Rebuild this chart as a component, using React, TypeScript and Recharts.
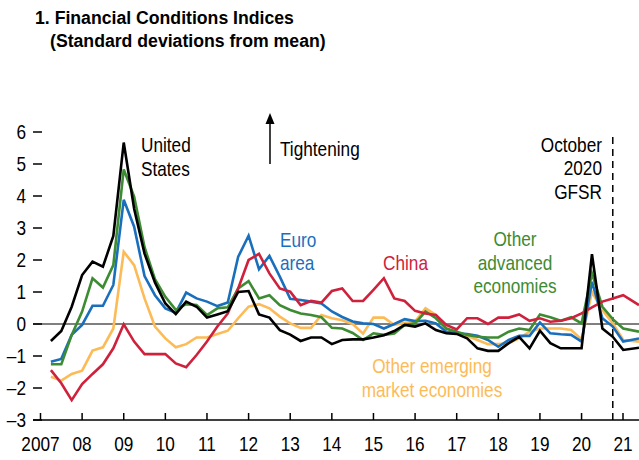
import {
  LineChart,
  Line,
  XAxis,
  YAxis,
  ReferenceLine,
} from "recharts";

// Liberation Sans squeezed horizontally to mimic a narrow face
const FONT = '"Liberation Sans", Arial, sans-serif';
const SQUEEZE = 0.82;

// quarter-end positions (decimal years); last point is the latest reading
const dates = [
  2007.25, 2007.5, 2007.75, 2008.0,
  2008.25, 2008.5, 2008.75, 2009.0,
  2009.25, 2009.5, 2009.75, 2010.0,
  2010.25, 2010.5, 2010.75, 2011.0,
  2011.25, 2011.5, 2011.75, 2012.0,
  2012.25, 2012.5, 2012.75, 2013.0,
  2013.25, 2013.5, 2013.75, 2014.0,
  2014.25, 2014.5, 2014.75, 2015.0,
  2015.25, 2015.5, 2015.75, 2016.0,
  2016.25, 2016.5, 2016.75, 2017.0,
  2017.25, 2017.5, 2017.75, 2018.0,
  2018.25, 2018.5, 2018.75, 2019.0,
  2019.25, 2019.5, 2019.75, 2020.0,
  2020.25, 2020.5, 2020.75, 2021.0,
  2021.38,
];

const unitedStates = [
  -0.53, -0.22, 0.54, 1.53, 1.95, 1.79, 2.75, 5.67,
  3.6, 2.2, 1.3, 0.64, 0.31, 0.7, 0.54, 0.2,
  0.3, 0.4, 1.0, 1.03, 0.3, 0.2, -0.19, -0.33,
  -0.53, -0.42, -0.42, -0.63, -0.5, -0.48, -0.48, -0.42,
  -0.35, -0.22, -0.03, -0.08, 0.02, -0.19, -0.29, -0.31,
  -0.45, -0.76, -0.84, -0.84, -0.6, -0.4, -0.76, -0.21,
  -0.6, -0.76, -0.76, -0.76, 2.18, -0.14, -0.4, -0.81,
  -0.74,
];

const euroArea = [
  -1.18, -1.09, -0.34, -0.03, 0.57, 0.57, 1.22, 3.88,
  3.04, 1.5, 0.9, 0.49, 0.35, 0.98, 0.8, 0.7,
  0.56, 0.67, 2.1, 2.76, 1.71, 2.13, 1.48, 0.79,
  0.75, 0.7, 0.64, 0.39, 0.22, 0.08, 0.02, 0.0,
  -0.14, 0.0, 0.15, 0.09, 0.1, 0.02, -0.24, -0.29,
  -0.31, -0.37, -0.5, -0.71, -0.5, -0.37, -0.37, 0.05,
  -0.29, -0.32, -0.34, -0.55, 1.32, 0.18, -0.08, -0.55,
  -0.45,
];

const china = [
  -1.44, -1.85, -2.38, -1.88, -1.56, -1.26, -0.76, -0.01,
  -0.55, -0.94, -0.94, -0.94, -1.23, -1.35, -0.97, -0.55,
  -0.08, 0.33, 1.11, 2.0, 2.19, 1.58, 1.11, 1.01,
  0.59, 0.72, 0.67, 1.03, 1.11, 0.72, 0.72, 1.07,
  1.43, 0.8, 0.72, 0.41, 0.33, 0.28, -0.03, -0.17,
  0.18, 0.18, 0.0, 0.2, 0.2, 0.3, 0.1, 0.18,
  0.07, 0.1, 0.18, 0.33, 0.52, 0.7, 0.8, 0.9,
  0.59,
];

const otherAdvanced = [
  -1.26, -1.26, -0.34, 0.39, 1.43, 1.14, 1.84, 4.83,
  3.98, 2.4, 1.4, 0.85, 0.44, 0.62, 0.59, 0.28,
  0.49, 0.52, 1.11, 1.34, 0.8, 0.9, 0.59, 0.44,
  0.33, 0.28, 0.21, -0.12, -0.14, -0.28, -0.5, -0.29,
  -0.34, -0.3, -0.03, 0.02, 0.39, 0.18, -0.14, -0.24,
  -0.34, -0.4, -0.42, -0.42, -0.24, -0.14, -0.19, 0.3,
  0.21, 0.1, 0.21, 0.02, 1.58, 0.54, 0.15, -0.14,
  -0.24,
];

const otherEmerging = [
  -1.65, -1.77, -1.56, -1.46, -0.83, -0.73, -0.14, 2.26,
  1.84, 0.8, -0.08, -0.45, -0.73, -0.63, -0.42, -0.42,
  -0.31, -0.21, 0.18, 0.54, 0.62, 0.49, 0.23, 0.02,
  -0.12, -0.12, 0.28, 0.18, 0.12, 0.0, -0.3, 0.2,
  0.2, -0.03, 0.04, 0.08, 0.49, 0.28, -0.14, -0.29,
  -0.37, -0.5, -0.63, -0.63, -0.6, -0.45, -0.24, -0.14,
  -0.14, -0.14, -0.19, -0.48, 1.0, 0.44, 0.02, -0.5,
  -0.55,
];

const yearTicks = [
  2007, 2008, 2009, 2010, 2011, 2012, 2013, 2014,
  2015, 2016, 2017, 2018, 2019, 2020, 2021,
];
const yTicks = [-3, -2, -1, 0, 1, 2, 3, 4, 5, 6];
const gfsrDate = 2020.75;

const COLORS = {
  us: "#000000",
  euro: "#1a6fbd",
  china: "#d0213c",
  adv: "#3d8b32",
  em: "#fdbb57",
};

const data = dates.map((t, i) => ({
  t,
  us: unitedStates[i],
  euro: euroArea[i],
  china: china[i],
  adv: otherAdvanced[i],
  em: otherEmerging[i],
}));

function NText(props: {
  x: number;
  y: number;
  children: React.ReactNode;
  fill?: string;
  anchor?: "start" | "middle" | "end";
  size?: number;
  bold?: boolean;
  squeeze?: number;
}) {
  const {
    x,
    y,
    children,
    fill = "#000",
    anchor = "start",
    size = 21,
    bold,
    squeeze = SQUEEZE,
  } = props;
  return (
    <text
      transform={`translate(${x},${y}) scale(${squeeze},1)`}
      textAnchor={anchor}
      fontFamily={FONT}
      fontSize={size}
      fontWeight={bold ? "bold" : "normal"}
      fill={fill}
    >
      {children}
    </text>
  );
}

function XTick(props: any) {
  const { x, y, payload } = props;
  const v = payload.value as number;
  const label = v === 2007 ? "2007" : String(v).slice(2);
  return (
    <g>
      <line x1={x} x2={x} y1={y} y2={y - 7} stroke="#000" strokeWidth={1.5} />
      <NText x={x} y={y + 31} anchor="middle">
        {label}
      </NText>
    </g>
  );
}

function LeftTick(props: any) {
  const { x, y, payload } = props;
  const v = payload.value as number;
  return (
    <g>
      <line x1={x} x2={x + 9} y1={y} y2={y} stroke="#000" strokeWidth={1.5} />
      <NText x={x - 7} y={y + 7} anchor="end">
        {v < 0 ? "\u2013" + Math.abs(v) : String(v)}
      </NText>
    </g>
  );
}

function RightTick(props: any) {
  const { x, y } = props;
  return (
    <line x1={x - 7} x2={x} y1={y} y2={y} stroke="#000" strokeWidth={1.5} />
  );
}

export default function App() {
  return (
    <div
      style={{
        position: "absolute",
        left: 0,
        top: 0,
        width: 639,
        height: 460,
        background: "#fff",
      }}
    >
      <LineChart
        width={639}
        height={460}
        data={data}
        margin={{ top: 132, right: 0, bottom: 0, left: 0 }}
      >
        <XAxis
          dataKey="t"
          type="number"
          domain={[2006.82, 2021.38]}
          ticks={yearTicks}
          allowDataOverflow
          height={40}
          tickSize={0}
          tickMargin={0}
          tick={<XTick />}
          axisLine={{ stroke: "#000", strokeWidth: 1.5 }}
          tickLine={false}
        />
        <YAxis
          yAxisId="l"
          domain={[-3, 6]}
          ticks={yTicks}
          width={33}
          tickSize={0}
          tickMargin={0}
          tick={<LeftTick />}
          axisLine={false}
          tickLine={false}
        />
        <YAxis
          yAxisId="r"
          orientation="right"
          domain={[-3, 6]}
          ticks={yTicks}
          width={0}
          tickSize={0}
          tickMargin={0}
          tick={<RightTick />}
          axisLine={false}
          tickLine={false}
        />
        <ReferenceLine yAxisId="l" y={0} stroke="#000" strokeWidth={1} />
        <ReferenceLine
          yAxisId="l"
          x={gfsrDate}
          stroke="#000"
          strokeWidth={1.5}
          strokeDasharray="7 5"
        />
        <Line yAxisId="l" dataKey="em" stroke={COLORS.em} strokeWidth={2.6} dot={false} isAnimationActive={false} />
        <Line yAxisId="l" dataKey="euro" stroke={COLORS.euro} strokeWidth={2.6} dot={false} isAnimationActive={false} />
        <Line yAxisId="l" dataKey="adv" stroke={COLORS.adv} strokeWidth={2.6} dot={false} isAnimationActive={false} />
        <Line yAxisId="l" dataKey="china" stroke={COLORS.china} strokeWidth={2.6} dot={false} isAnimationActive={false} />
        <Line yAxisId="l" dataKey="us" stroke={COLORS.us} strokeWidth={2.6} dot={false} isAnimationActive={false} />
      </LineChart>
      <svg
        width={639}
        height={460}
        style={{ position: "absolute", left: 0, top: 0, pointerEvents: "none" }}
      >
        <NText x={35} y={24} size={19} bold squeeze={0.93}>
          1. Financial Conditions Indices
        </NText>
        <NText x={50} y={47} size={19} bold squeeze={0.93}>
          (Standard deviations from mean)
        </NText>

        <NText x={141} y={152}>United</NText>
        <NText x={141} y={176}>States</NText>

        <line x1={270} x2={270} y1={164} y2={122} stroke="#000" strokeWidth={1.5} />
        <polygon points="270,113 265.5,124 274.5,124" fill="#000" />
        <NText x={280} y={156}>Tightening</NText>

        <NText x={280} y={247} fill={COLORS.euro}>Euro</NText>
        <NText x={280} y={270} fill={COLORS.euro}>area</NText>

        <NText x={383} y={270} fill={COLORS.china}>China</NText>

        <NText x={515} y={246} anchor="middle" fill={COLORS.adv}>Other</NText>
        <NText x={515} y={270} anchor="middle" fill={COLORS.adv}>advanced</NText>
        <NText x={515} y={293} anchor="middle" fill={COLORS.adv}>economies</NText>

        <NText x={602} y={152} anchor="end">October</NText>
        <NText x={602} y={175} anchor="end">2020</NText>
        <NText x={602} y={199} anchor="end">GFSR</NText>

        <NText x={432} y={373} anchor="middle" fill={COLORS.em}>Other emerging</NText>
        <NText x={432} y={397} anchor="middle" fill={COLORS.em}>market economies</NText>
      </svg>
    </div>
  );
}
